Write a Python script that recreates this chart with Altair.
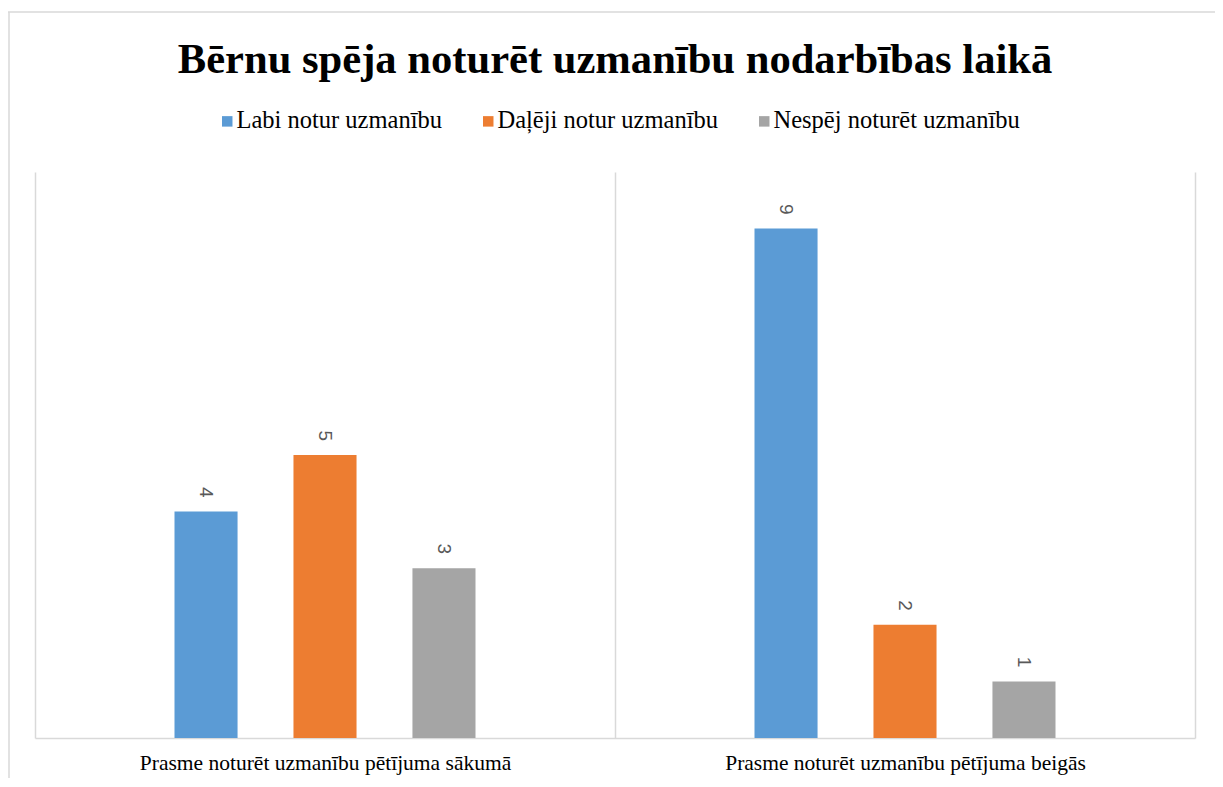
import altair as alt
import pandas as pd

title_text = "Bērnu spēja noturēt uzmanību nodarbības laikā"
categories = ["Prasme noturēt uzmanību pētījuma sākumā", "Prasme noturēt uzmanību pētījuma beigās"]
series = ["Labi notur uzmanību", "Daļēji notur uzmanību", "Nespēj noturēt uzmanību"]
colors = ["#5B9BD5", "#ED7D31", "#A5A5A5"]
values_start = [4, 5, 3]
values_end = [9, 2, 1]

rows = []
for s, v in zip(series, values_start):
    rows.append({"category": categories[0], "series": s, "value": v})
for s, v in zip(series, values_end):
    rows.append({"category": categories[1], "series": s, "value": v})
df = pd.DataFrame(rows)

W, H = 1160, 566

x_enc = alt.X(
    "category:N",
    sort=categories,
    scale=alt.Scale(paddingInner=0, paddingOuter=0),
    axis=alt.Axis(
        title=None,
        labelAngle=0,
        tickBand="extent",
        grid=True,
        gridColor="#d9d9d9",
        gridWidth=1.5,
        ticks=False,
        domainColor="#d9d9d9",
        domainWidth=1.5,
        labelFont="Liberation Serif",
        labelFontSize=21.5,
        labelColor="#000000",
        labelPadding=14,
        labelLimit=700,
    ),
)
xoff_enc = alt.XOffset(
    "series:N", sort=series,
    scale=alt.Scale(range=[139.5, 440.5], paddingInner=0.47, paddingOuter=0),
)
y_enc = alt.Y("value:Q", scale=alt.Scale(domain=[0, 10]), axis=None)

base = alt.Chart(df)

bars = base.mark_bar().encode(
    x=x_enc,
    xOffset=xoff_enc,
    y=y_enc,
    color=alt.Color(
        "series:N",
        sort=series,
        scale=alt.Scale(domain=series, range=colors),
        legend=alt.Legend(
            title=None,
            orient="none",
            direction="horizontal",
            legendX=177,
            legendY=-63,
            symbolType="M-0.43,-1H1.57V1H-0.43Z",
            symbolSize=110,
            symbolStrokeWidth=0,
            symbolOffset=0,
            labelFont="Liberation Serif",
            labelFontSize=24.5,
            labelColor="#000000",
            labelOffset=0,
            columnPadding=31,
            labelLimit=400,
        ),
    ),
)

labels = base.mark_text(
    angle=90,
    align="right",
    baseline="middle",
    dx=-14,
    font="Liberation Sans",
    fontSize=19,
    color="#595959",
).encode(x=x_enc, xOffset=xoff_enc, y=y_enc, text=alt.Text("value:Q"))

frame_df = pd.DataFrame({"a": [0]})
top_border = alt.Chart(frame_df).mark_rule(color="#d9d9d9", strokeWidth=1.5).encode(
    x=alt.value(-27), x2=alt.value(1200), y=alt.value(-160)
)
left_border = alt.Chart(frame_df).mark_rule(color="#d9d9d9", strokeWidth=1.5).encode(
    x=alt.value(-26), y=alt.value(-160), y2=alt.value(620)
)

chart = (
    alt.layer(top_border, left_border, bars, labels)
    .properties(
        width=W,
        height=H,
        autosize=alt.AutoSizeParams(type="none"),
        padding={"left": 27, "top": 164, "right": 20, "bottom": 40},
        title=alt.TitleParams(
            text=title_text,
            font="Liberation Serif",
            fontSize=42.6,
            fontWeight="bold",
            color="#000000",
            anchor="middle",
            offset=-70,
        ),
        background="#ffffff",
    )
    .configure_view(stroke=None)
    .configure_legend(labelFont="Liberation Serif", labelFontSize=24.5, labelColor="#000000")
)

chart.save("out.html", embed_options={"renderer": "svg", "actions": False})
